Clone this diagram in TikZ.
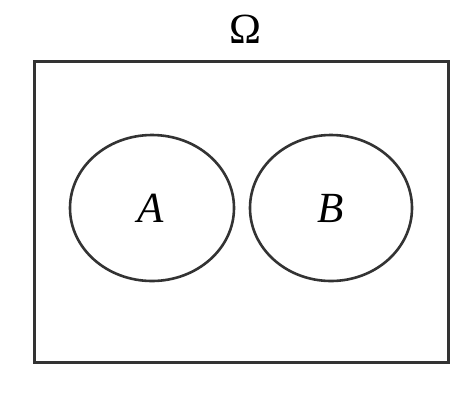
\documentclass[tikz,border=0pt]{standalone}
\usepackage{fontspec}
\setmainfont{Liberation Serif}
\usetikzlibrary{shapes.geometric}
\begin{document}
\begin{tikzpicture}[x=1pt,y=-1pt,
  frame/.style={draw=black!80, line width=3pt},
  setcurve/.style={draw=black!80, line width=2.6pt},
  lbl/.style={inner sep=0pt, font=\fontsize{43}{47}\selectfont}]
\useasboundingbox (0,0) rectangle (476,400);
\draw[frame] (34,61) rectangle (448,362);
\node[setcurve, ellipse, minimum width=164pt, minimum height=146pt, inner sep=0pt] (ea) at (152,208) {};
\node[setcurve, ellipse, minimum width=162pt, minimum height=146pt, inner sep=0pt] (eb) at (331,208) {};
\node[lbl] (om) at (245,29) {Ω};
\node[lbl] (a) at (151,208) {\itshape A};
\node[lbl] (b) at (331,208) {\itshape B};
\end{tikzpicture}
\end{document}
